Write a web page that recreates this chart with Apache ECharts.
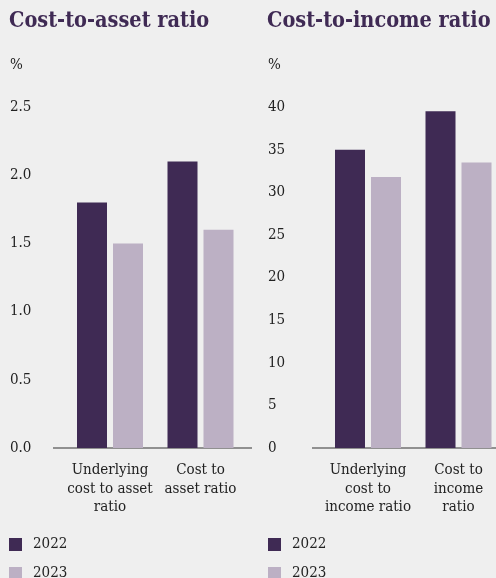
<!DOCTYPE html>
<html><head><meta charset="utf-8">
<script src="https://cdn.jsdelivr.net/npm/echarts@6/dist/echarts.min.js"></script>
<style>html,body{margin:0;padding:0;background:#efefef;}#c{width:496px;height:578px;}</style>
</head><body><div id="c"></div>
<script>
const assetCategories = ['Underlying\ncost to asset\nratio', 'Cost to\nasset ratio'];
const incomeCategories = ['Underlying\ncost to\nincome ratio', 'Cost to\nincome\nratio'];
const seriesNames = ['2022', '2023'];
const asset2022 = [1.8, 2.1];
const asset2023 = [1.5, 1.6];
const income2022 = [35, 39.5];
const income2023 = [31.8, 33.5];
const assetTicks = {min: 0, max: 2.5, interval: 0.5};
const incomeTicks = {min: 0, max: 40, interval: 5};

const DARK = '#3f2a54', LIGHT = '#bcb0c4';
const FONT = '"DejaVu Serif Condensed", "DejaVu Serif", serif';
const chart = echarts.init(document.getElementById('c'), null, {renderer: 'canvas'});
const txt = {fontFamily: FONT, fontSize: 15, color: '#222'};
function yAx(idx, t, margin, fmt) {
  return {type: 'value', gridIndex: idx, min: t.min, max: t.max, interval: t.interval,
    splitLine: {show: false}, axisLine: {show: false}, axisTick: {show: false},
    axisLabel: Object.assign({}, txt, {align: 'left', margin: margin, formatter: fmt, padding: [0, 0, 3, 0]})};
}
function xAx(idx, cats) {
  return {type: 'category', gridIndex: idx, data: cats, axisLine: {show: false}, axisTick: {show: false},
    axisLabel: Object.assign({}, txt, {margin: 13, lineHeight: 18.5, interval: 0})};
}
const barBase = {type: 'bar', barWidth: 30, barGap: '20%'};
const titleStyle = {fontFamily: FONT, fontWeight: 'bold', fontSize: 21.5, color: DARK};
const legendBase = {data: seriesNames, orient: 'vertical', top: 537, height: 60, itemWidth: 13, itemHeight: 13, itemGap: 14,
  icon: 'rect', textStyle: Object.assign({}, txt, {lineHeight: 13, padding: [0, 0, 0, 6]}), padding: 0, itemStyle: {borderWidth: 0}};
chart.setOption({
  backgroundColor: '#efefef',
  animation: false,
  title: [
    {text: 'Cost-to-asset ratio', left: 9, top: 10, padding: 0, textStyle: titleStyle},
    {text: 'Cost-to-income ratio', left: 267, top: 10, padding: 0, textStyle: titleStyle},
    {text: '%', left: 10, top: 58, padding: 0, textStyle: Object.assign({}, txt, {fontWeight: 'normal'})},
    {text: '%', left: 268, top: 58, padding: 0, textStyle: Object.assign({}, txt, {fontWeight: 'normal'})}
  ],
  legend: [
    Object.assign({}, legendBase, {left: 9}),
    Object.assign({}, legendBase, {left: 268})
  ],
  grid: [
    {left: 64.75, width: 181, top: 107, bottom: 130, outerBoundsMode: 'none', containLabel: false},
    {left: 322.75, width: 181, top: 107, bottom: 130, outerBoundsMode: 'none', containLabel: false}
  ],
  xAxis: [xAx(0, assetCategories), xAx(1, incomeCategories)],
  yAxis: [yAx(0, assetTicks, 54.75, v => v.toFixed(1)), yAx(1, incomeTicks, 54.75, v => String(v))],
  graphic: [
    {type: 'line', shape: {x1: 53, y1: 448, x2: 252, y2: 448}, style: {stroke: '#333', lineWidth: 1.2}},
    {type: 'line', shape: {x1: 312, y1: 448, x2: 496, y2: 448}, style: {stroke: '#333', lineWidth: 1.2}}
  ],
  series: [
    Object.assign({}, barBase, {name: seriesNames[0], xAxisIndex: 0, yAxisIndex: 0, data: asset2022, itemStyle: {color: DARK}}),
    Object.assign({}, barBase, {name: seriesNames[1], xAxisIndex: 0, yAxisIndex: 0, data: asset2023, itemStyle: {color: LIGHT}}),
    Object.assign({}, barBase, {name: seriesNames[0], xAxisIndex: 1, yAxisIndex: 1, data: income2022, itemStyle: {color: DARK}}),
    Object.assign({}, barBase, {name: seriesNames[1], xAxisIndex: 1, yAxisIndex: 1, data: income2023, itemStyle: {color: LIGHT}})
  ]
});
</script></body></html>
